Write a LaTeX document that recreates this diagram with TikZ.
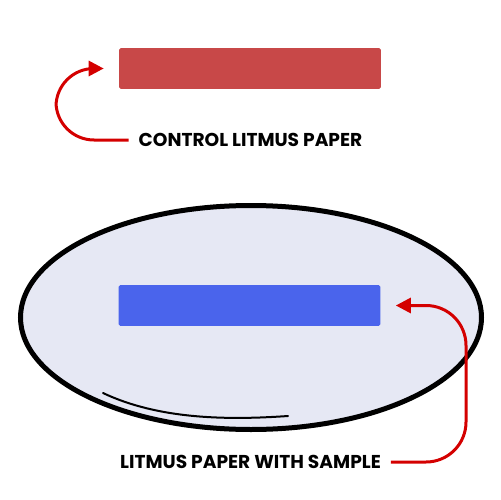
\documentclass[tikz,border=0pt]{standalone}
\usepackage{fontspec}
\setmainfont{Poppins}
\usetikzlibrary{arrows.meta}
\definecolor{paperred}{HTML}{C84848}
\definecolor{paperblue}{HTML}{4A64EC}
\definecolor{dish}{HTML}{E6E8F4}
\definecolor{arrowred}{HTML}{D40000}
\begin{document}
\begin{tikzpicture}[x=0.02cm,y=-0.02cm,every node/.style={font=\bfseries\fontsize{10.6}{12}\selectfont},
  paper/.style={rectangle,rounded corners=1pt,minimum width=5.24cm,minimum height=0.82cm,inner sep=0pt},
  caption/.style={inner sep=1pt,text=black},
  pointer/.style={draw=arrowred,line width=0.06cm,-{Triangle[length=0.3cm,width=0.3cm]},shorten >=0.3cm}]
\useasboundingbox (0,0) rectangle (500,500);
% petri dish
\draw[line width=0.1cm,fill=dish] (251,317.5) ellipse [x radius=230.5,y radius=112];
\draw[line width=0.04cm,line cap=round] (103,393) .. controls (160,420) and (230,420) .. (288,416);
% papers
\node[paper,fill=paperred] (ctrlpaper) at (250,68.5) {};
\node[paper,fill=paperblue] (samplepaper) at (249.5,305.5) {};
% labels
\node[caption] (ctrllabel) at (250.5,140) {CONTROL LITMUS PAPER};
\node[caption] (samplelabel) at (250.5,462) {LITMUS PAPER WITH SAMPLE};
% arrows
\draw[pointer,rounded corners=0.76cm] ([xshift=-0.16cm]ctrllabel.west) -| (56,68.5) -- (ctrlpaper.west);
\draw[pointer,rounded corners=0.8cm] ([xshift=0.16cm]samplelabel.east) -| (466,305.5) -- (samplepaper.east);
\end{tikzpicture}
\end{document}
